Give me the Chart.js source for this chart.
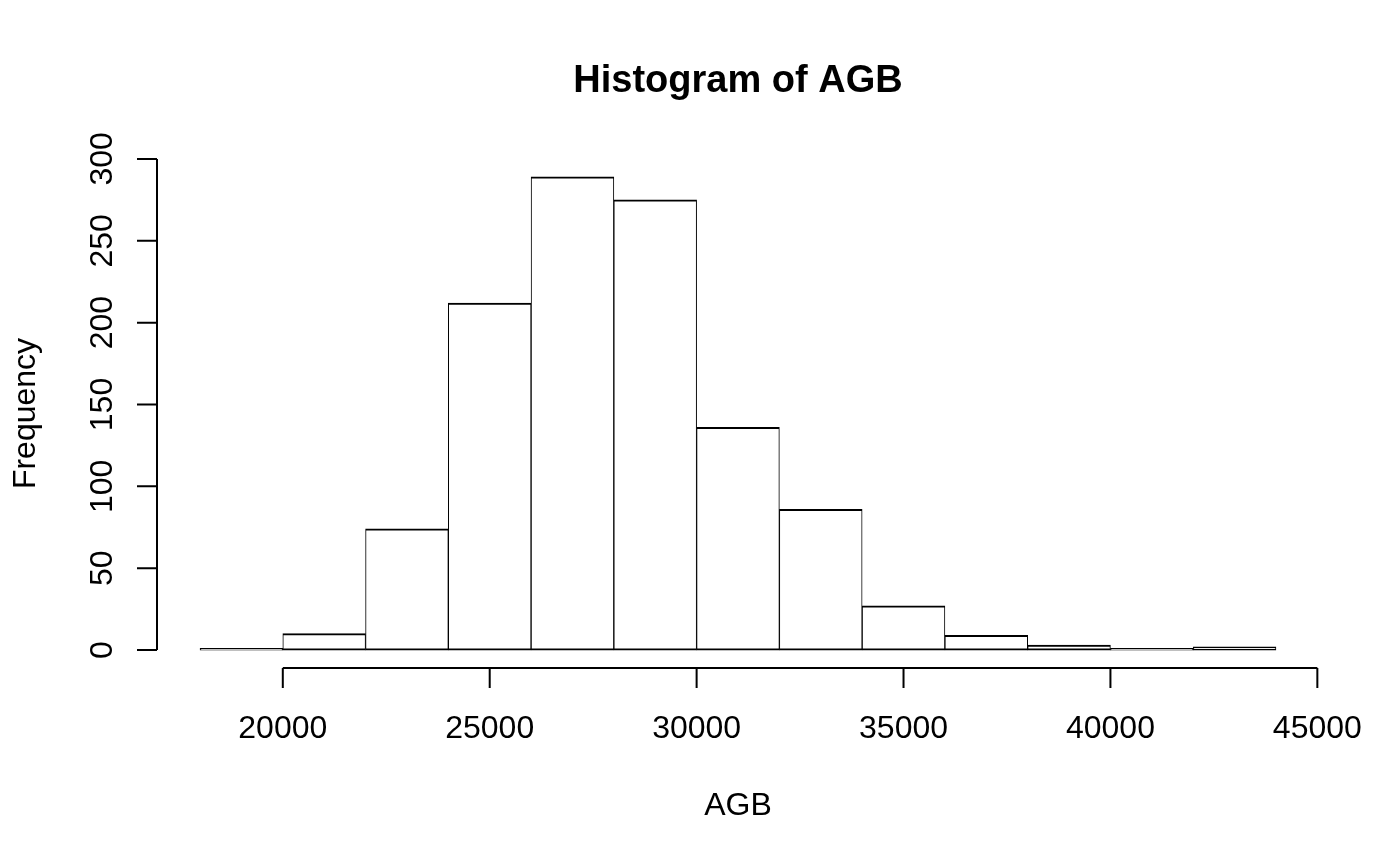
<!DOCTYPE html>
<html>
<head>
<meta charset="utf-8">
<title>Histogram of AGB</title>
<script src="https://cdn.jsdelivr.net/npm/chart.js@4.4.1/dist/chart.umd.min.js"></script>
<style>
  html, body { margin: 0; padding: 0; background: #ffffff; }
  #wrap { width: 1400px; height: 865px; }
</style>
</head>
<body>
<div id="wrap"><canvas id="histChart" width="1400" height="865"></canvas></div>
<script>
    // bin edges and counts
    var binEdges = [18000, 20000, 22000, 24000, 26000, 28000, 30000, 32000, 34000, 36000, 38000, 40000, 42000, 44000];
    var counts = [1, 10, 74, 212, 289, 275, 136, 86, 27, 9, 3, 1, 2];
    var xTicks = [20000, 25000, 30000, 35000, 40000, 45000];
    var yTicks = [0, 50, 100, 150, 200, 250, 300];

    var titleText = "Histogram of AGB";
    var xLabel = "AGB";
    var yLabel = "Frequency";

    var fontName = "'Liberation Sans', Arial, Helvetica, sans-serif";

    // bars as {x: bin middle, y: count}
    var barData = [];
    for (var i = 0; i < counts.length; i++) {
      barData.push({ x: (binEdges[i] + binEdges[i + 1]) / 2, y: counts[i] });
    }

    // R style axis range: data range extended by 4% on each side
    var xLo = binEdges[0], xHi = binEdges[binEdges.length - 1];
    var xPad = (xHi - xLo) * 0.04;
    var yLo = 0, yHi = Math.max.apply(null, counts);
    var yPad = (yHi - yLo) * 0.04;

    // draws the detached R axes, title and axis labels
    var rAxes = {
      id: 'rAxes',
      afterDraw: function(chart) {
        var ctx = chart.ctx;
        var area = chart.chartArea;
        var xs = chart.scales.x;
        var ys = chart.scales.y;
        var tick = 20;
        ctx.save();
        ctx.strokeStyle = '#000000';
        ctx.fillStyle = '#000000';
        ctx.lineWidth = 2;

        // x axis
        var ay = area.bottom - 1;
        var x0 = xs.getPixelForValue(xTicks[0]);
        var x1 = xs.getPixelForValue(xTicks[xTicks.length - 1]);
        ctx.beginPath();
        ctx.moveTo(x0, ay);
        ctx.lineTo(x1, ay);
        xTicks.forEach(function(v) {
          var px = xs.getPixelForValue(v);
          ctx.moveTo(px, ay);
          ctx.lineTo(px, ay + tick);
        });
        ctx.stroke();

        // y axis
        var ax = area.left;
        var y0 = ys.getPixelForValue(yTicks[0]);
        var y1 = ys.getPixelForValue(yTicks[yTicks.length - 1]);
        ctx.beginPath();
        ctx.moveTo(ax, y0);
        ctx.lineTo(ax, y1);
        yTicks.forEach(function(v) {
          var py = ys.getPixelForValue(v);
          ctx.moveTo(ax, py);
          ctx.lineTo(ax - tick, py);
        });
        ctx.stroke();

        // tick labels
        ctx.font = '32px ' + fontName;
        ctx.textAlign = 'center';
        ctx.textBaseline = 'alphabetic';
        xTicks.forEach(function(v) {
          ctx.fillText(String(v), xs.getPixelForValue(v), area.bottom + 69);
        });
        yTicks.forEach(function(v) {
          ctx.save();
          ctx.translate(area.left - 45, ys.getPixelForValue(v));
          ctx.rotate(-Math.PI / 2);
          ctx.fillText(String(v), 0, 0);
          ctx.restore();
        });

        // axis titles
        var midX = (area.left + area.right) / 2;
        var midY = (area.top + area.bottom) / 2;
        ctx.fillText(xLabel, midX, area.bottom + 146);
        ctx.save();
        ctx.translate(area.left - 122, midY);
        ctx.rotate(-Math.PI / 2);
        ctx.fillText(yLabel, 0, 0);
        ctx.restore();

        // main title
        ctx.font = 'bold 38px ' + fontName;
        ctx.fillText(titleText, midX, area.top - 66);
        ctx.restore();
      }
    };

    var ctx = document.getElementById('histChart').getContext('2d');
    var histChart = new Chart(ctx, {
      type: 'bar',
      data: {
        datasets: [{
          data: barData,
          backgroundColor: '#ffffff',
          borderColor: '#000000',
          borderWidth: { top: 2, bottom: 2, left: 1, right: 1 },
          borderSkipped: false,
          barPercentage: 1.0,
          categoryPercentage: 1.0
        }]
      },
      options: {
        responsive: false,
        animation: false,
        devicePixelRatio: 1,
        layout: {
          padding: { left: 157, right: 81, top: 158, bottom: 196 }
        },
        scales: {
          x: {
            type: 'linear',
            display: false,
            offset: false,
            min: xLo - xPad,
            max: xHi + xPad,
            ticks: { stepSize: 5000, includeBounds: false }
          },
          y: {
            type: 'linear',
            display: false,
            min: yLo - yPad,
            max: yHi + yPad
          }
        },
        plugins: {
          legend: { display: false },
          tooltip: { enabled: false },
          title: { display: false }
        }
      },
      plugins: [rAxes]
    });
</script>
</body>
</html>
